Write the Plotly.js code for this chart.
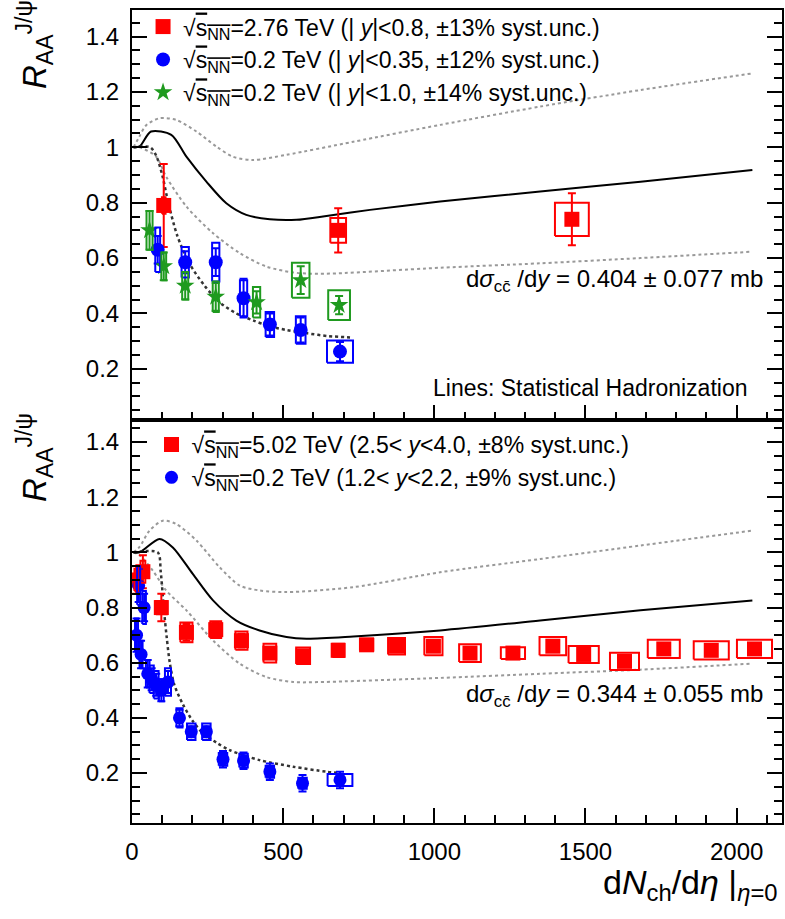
<!DOCTYPE html>
<html>
<head>
<meta charset="utf-8">
<script src="https://cdn.plot.ly/plotly-3.0.1.min.js"></script>
<style>html,body{margin:0;padding:0;background:#fff;}#chart{width:785px;height:919px;}</style>
</head>
<body>
<div id="chart"></div>
<script>
// ---------- Top panel data (mid-rapidity) ----------
const alice276_x    = [105, 682, 1455];
const alice276_y    = [0.79, 0.70, 0.74];
const alice276_stat = [0.15, 0.08, 0.094];
const alice276_sysx = [6, 26, 56];
const alice276_sysy = [0.03, 0.045, 0.06];

const phxMid_x    = [85, 176, 277, 369, 456, 558, 688];
const phxMid_y    = [0.63, 0.585, 0.585, 0.455, 0.36, 0.34, 0.262];
const phxMid_stat = [0.05, 0.04, 0.05, 0.07, 0.04, 0.045, 0.035];
const phxMid_sysx = [8, 12, 12, 12, 14, 16, 43];
const phxMid_sysy = [0.08, 0.055, 0.07, 0.065, 0.045, 0.05, 0.04];

const phxMid2_x    = [58, 105, 176, 277, 412, 558, 685];
const phxMid2_y    = [0.70, 0.57, 0.50, 0.46, 0.44, 0.52, 0.43];
const phxMid2_stat = [0.07, 0.05, 0.05, 0.05, 0.04, 0.05, 0.033];
const phxMid2_sysx = [10, 8, 10, 10, 12, 29, 36];
const phxMid2_sysy = [0.07, 0.05, 0.05, 0.055, 0.055, 0.063, 0.054];

// Statistical hadronization curves (top)
const shm276_x    = [5, 25, 63, 130, 180, 246, 312, 378, 456, 544, 643, 787, 1019, 1350, 1682, 2052];
const shm276_y    = [1.0, 1.003, 1.057, 1.045, 0.966, 0.876, 0.798, 0.756, 0.74, 0.738, 0.752, 0.774, 0.804, 0.84, 0.876, 0.918];
const shm276hi_x  = [5, 25, 47, 91, 146, 213, 279, 334, 400, 511, 732, 1019, 1350, 1682, 2052];
const shm276hi_y  = [1.0, 1.04, 1.08, 1.105, 1.099, 1.057, 1.003, 0.966, 0.954, 0.973, 1.02, 1.081, 1.147, 1.207, 1.267];
const shm276lo_x  = [5, 25, 80, 113, 180, 268, 356, 445, 533, 621, 1019, 1350, 1682, 2052];
const shm276lo_y  = [1.0, 1.0, 0.966, 0.894, 0.786, 0.69, 0.618, 0.569, 0.548, 0.543, 0.565, 0.581, 0.6, 0.623];
const shm200mid_x = [5, 60, 80, 100, 120, 150, 190, 240, 290, 345, 400, 450, 511, 580, 650, 730];
const shm200mid_y = [1.0, 1.0, 0.97, 0.9, 0.8, 0.68, 0.58, 0.5, 0.44, 0.40, 0.375, 0.355, 0.34, 0.328, 0.318, 0.313];

// ---------- Bottom panel data (forward rapidity) ----------
const alice502_x    = [14, 36, 97, 180, 277, 362, 456, 566, 682, 776, 875, 997, 1118, 1260, 1392, 1494, 1629, 1759, 1916, 2059];
const alice502_y    = [0.90, 0.93, 0.80, 0.71, 0.72, 0.68, 0.635, 0.625, 0.645, 0.665, 0.66, 0.66, 0.635, 0.635, 0.66, 0.63, 0.605, 0.65, 0.645, 0.65];
const alice502_stat = [0.05, 0.06, 0.05, 0.03, 0.025, 0.025, 0.02, 0.02, 0.015, 0.015, 0.015, 0.015, 0.015, 0.012, 0.012, 0.012, 0.012, 0.012, 0.012, 0.012];
const alice502_sysx = [6, 8, 18, 20, 18, 20, 21, 23, 19, 22, 28, 30, 36, 40, 44, 50, 48, 53, 58, 58];
const alice502_sysy = [0.04, 0.04, 0.024, 0.036, 0.03, 0.033, 0.034, 0.03, 0.024, 0.021, 0.03, 0.033, 0.032, 0.021, 0.033, 0.031, 0.031, 0.033, 0.033, 0.033];

const phxFwd_x    = [15, 22, 30, 40, 52, 65, 80, 97, 119, 157, 196, 246, 301, 369, 456, 564, 688];
const phxFwd_y    = [0.70, 0.88, 0.63, 0.80, 0.56, 0.54, 0.52, 0.50, 0.53, 0.40, 0.35, 0.35, 0.25, 0.245, 0.205, 0.163, 0.175];
const phxFwd_stat = [0.06, 0.06, 0.05, 0.05, 0.05, 0.04, 0.04, 0.04, 0.04, 0.03, 0.02, 0.02, 0.03, 0.03, 0.03, 0.03, 0.03];
const phxFwd_sysx = [5, 5, 5, 6, 6, 7, 8, 8, 10, 10, 14, 14, 14, 14, 14, 14, 41];
const phxFwd_sysy = [0.06, 0.07, 0.05, 0.06, 0.05, 0.05, 0.05, 0.04, 0.05, 0.035, 0.03, 0.03, 0.023, 0.025, 0.022, 0.02, 0.022];

const shm502_x    = [5, 25, 91, 135, 201, 268, 345, 422, 511, 577, 732, 1019, 1350, 1682, 2052];
const shm502_y    = [1.0, 1.0, 1.049, 1.018, 0.922, 0.826, 0.753, 0.717, 0.693, 0.687, 0.695, 0.717, 0.753, 0.79, 0.826];
const shm502hi_x  = [5, 25, 58, 102, 146, 213, 290, 356, 422, 511, 732, 1019, 1350, 1682, 2052];
const shm502hi_y  = [1.0, 1.02, 1.079, 1.115, 1.103, 1.043, 0.946, 0.88, 0.862, 0.856, 0.874, 0.928, 0.976, 1.025, 1.079];
const shm502lo_x  = [5, 25, 69, 113, 180, 268, 356, 445, 533, 621, 1019, 1350, 1682, 2052];
const shm502lo_y  = [1.0, 0.99, 0.934, 0.862, 0.79, 0.681, 0.597, 0.548, 0.53, 0.53, 0.545, 0.56, 0.575, 0.597];
const shm200fwd_x = [5, 85, 95, 105, 115, 125, 140, 168, 200, 235, 280, 323, 422, 533, 643, 690];
const shm200fwd_y = [1.0, 1.0, 0.93, 0.80, 0.69, 0.60, 0.52, 0.45, 0.39, 0.344, 0.31, 0.283, 0.247, 0.223, 0.205, 0.2];

// ---------- Tick values ----------
const yTicks = [0.2, 0.4, 0.6, 0.8, 1.0, 1.2, 1.4];
const xTicks = [0, 500, 1000, 1500, 2000];

const FONT = "Liberation Sans, Arial, Helvetica, sans-serif";
const RED = "#ff0000", BLUE = "#0000ff", GREEN = "#1f9a1f";

function boxes(xs, ys, dxs, dys, color, xa, ya) {
  const X = [], Y = [];
  for (let i = 0; i < xs.length; i++) {
    const x = xs[i], y = ys[i], dx = dxs[i], dy = dys[i];
    X.push(x - dx, x + dx, x + dx, x - dx, x - dx, null);
    Y.push(y - dy, y - dy, y + dy, y + dy, y - dy, null);
  }
  return {x: X, y: Y, xaxis: xa, yaxis: ya, mode: "lines", type: "scatter",
          line: {color: color, width: 2}, showlegend: false, hoverinfo: "skip"};
}
function points(xs, ys, st, color, symbol, size, name, xa, ya, leg) {
  return {x: xs, y: ys, xaxis: xa, yaxis: ya, mode: "markers", type: "scatter", name: name,
          legend: leg,
          marker: {color: color, symbol: symbol, size: size},
          error_y: {type: "data", array: st, visible: true, color: color, thickness: 2, width: 4}};
}
function curve(xs, ys, color, dash, width, xa, ya) {
  return {x: xs, y: ys, xaxis: xa, yaxis: ya, mode: "lines", type: "scatter",
          line: {color: color, dash: dash, width: width, shape: "spline", smoothing: 0.8},
          showlegend: false, hoverinfo: "skip"};
}

const sq = "√<span style=\"text-decoration:overline\">s<sub>NN</sub></span>";

const traces = [
  // top panel curves
  curve(shm276hi_x, shm276hi_y, "#999999", "dot", 2, "x2", "y2"),
  curve(shm276lo_x, shm276lo_y, "#999999", "dot", 2, "x2", "y2"),
  curve(shm276_x, shm276_y, "#000000", "solid", 2, "x2", "y2"),
  curve(shm200mid_x, shm200mid_y, "#333333", "dot", 2.5, "x2", "y2"),
  // top panel data
  points(alice276_x, alice276_y, alice276_stat, RED, "square", 15,
         sq + "=2.76 TeV (| <i>y</i>|&lt;0.8, ±13% syst.unc.)", "x2", "y2", "legend"),
  points(phxMid_x, phxMid_y, phxMid_stat, BLUE, "circle", 14,
         sq + "=0.2 TeV (| <i>y</i>|&lt;0.35, ±12% syst.unc.)", "x2", "y2", "legend"),
  points(phxMid2_x, phxMid2_y, phxMid2_stat, GREEN, "star", 14,
         sq + "=0.2 TeV (| <i>y</i>|&lt;1.0, ±14% syst.unc.)", "x2", "y2", "legend"),
  boxes(alice276_x, alice276_y, alice276_sysx, alice276_sysy, RED, "x2", "y2"),
  boxes(phxMid_x, phxMid_y, phxMid_sysx, phxMid_sysy, BLUE, "x2", "y2"),
  boxes(phxMid2_x, phxMid2_y, phxMid2_sysx, phxMid2_sysy, GREEN, "x2", "y2"),
  // bottom panel curves
  curve(shm502hi_x, shm502hi_y, "#999999", "dot", 2, "x", "y"),
  curve(shm502lo_x, shm502lo_y, "#999999", "dot", 2, "x", "y"),
  curve(shm502_x, shm502_y, "#000000", "solid", 2, "x", "y"),
  curve(shm200fwd_x, shm200fwd_y, "#333333", "dot", 2.5, "x", "y"),
  // bottom panel data
  points(alice502_x, alice502_y, alice502_stat, RED, "square", 15,
         sq + "=5.02 TeV (2.5&lt; <i>y</i>&lt;4.0, ±8% syst.unc.)", "x", "y", "legend2"),
  points(phxFwd_x, phxFwd_y, phxFwd_stat, BLUE, "circle", 13,
         sq + "=0.2 TeV (1.2&lt; <i>y</i>&lt;2.2, ±9% syst.unc.)", "x", "y", "legend2"),
  boxes(alice502_x, alice502_y, alice502_sysx, alice502_sysy, RED, "x", "y"),
  boxes(phxFwd_x, phxFwd_y, phxFwd_sysx, phxFwd_sysy, BLUE, "x", "y")
];

const yaxisBase = {
  tickmode: "array", tickvals: yTicks, ticks: "inside", ticklen: 15, tickwidth: 2, tickcolor: "#000",
  minor: {dtick: 0.05, ticks: "inside", ticklen: 8, tickwidth: 2, tickcolor: "#000"},
  showline: true, linecolor: "#000", linewidth: 2, mirror: "allticks",
  showgrid: false, zeroline: false, ticklabelstandoff: 6,
  tickfont: {family: FONT, size: 24, color: "#000"}
};
const xaxisBase = {
  range: [0, 2150], tickmode: "array", tickvals: xTicks, ticks: "inside", ticklen: 15, tickwidth: 2, tickcolor: "#000",
  minor: {dtick: 100, ticks: "inside", ticklen: 8, tickwidth: 2, tickcolor: "#000"},
  showline: true, linecolor: "#000", linewidth: 2, mirror: true,
  showgrid: false, zeroline: false, ticklabelstandoff: 6,
  tickfont: {family: FONT, size: 24, color: "#000"}
};

const layout = {
  width: 785, height: 919,
  margin: {l: 132, r: 3, t: 10, b: 96},
  paper_bgcolor: "#fff", plot_bgcolor: "#fff",
  font: {family: FONT, color: "#000"},
  xaxis: Object.assign({}, xaxisBase, {anchor: "y", domain: [0, 1]}),
  xaxis2: Object.assign({}, xaxisBase, {anchor: "y2", domain: [0, 1], matches: "x", showticklabels: false}),
  yaxis: Object.assign({}, yaxisBase, {anchor: "x", domain: [0, 0.4957], range: [0.019, 1.48]}),
  yaxis2: Object.assign({}, yaxisBase, {anchor: "x2", domain: [0.4957, 1], range: [0.015, 1.496]}),
  legend: {x: 0.017, y: 1.006, xanchor: "left", yanchor: "top", bgcolor: "rgba(0,0,0,0)",
           font: {family: FONT, size: 23, color: "#000"}, tracegroupgap: 0},
  legend2: {x: 0.03, y: 0.492, xanchor: "left", yanchor: "top", bgcolor: "rgba(0,0,0,0)",
            font: {family: FONT, size: 23, color: "#000"}, tracegroupgap: 0},
  showlegend: true,
  annotations: [
    {xref: "paper", yref: "paper", x: 0.951, y: 0.535, xanchor: "right", yanchor: "middle", showarrow: false,
     text: "Lines: Statistical Hadronization", font: {family: FONT, size: 23, color: "#000"}},
    {xref: "paper", yref: "paper", x: 0.974, y: 0.667, xanchor: "right", yanchor: "middle", showarrow: false,
     text: "d<i>σ</i><sub>cc̄</sub> /d<i>y</i> = 0.404 ± 0.077 mb", font: {family: FONT, size: 24, color: "#000"}},
    {xref: "paper", yref: "paper", x: 0.974, y: 0.157, xanchor: "right", yanchor: "middle", showarrow: false,
     text: "d<i>σ</i><sub>cc̄</sub> /d<i>y</i> = 0.344 ± 0.055 mb", font: {family: FONT, size: 24, color: "#000"}},
    {xref: "paper", yref: "paper", x: -0.149, y: 0.957, xanchor: "center", yanchor: "middle", showarrow: false,
     textangle: -90, text: "<i>R</i><sub>AA</sub><sup>J/ψ</sup>", font: {family: FONT, size: 33, color: "#000"}},
    {xref: "paper", yref: "paper", x: -0.149, y: 0.449, xanchor: "center", yanchor: "middle", showarrow: false,
     textangle: -90, text: "<i>R</i><sub>AA</sub><sup>J/ψ</sup>", font: {family: FONT, size: 33, color: "#000"}},
    {xref: "paper", yref: "paper", x: 0.997, y: -0.076, xanchor: "right", yanchor: "middle", showarrow: false,
     text: "d<i>N</i><sub>ch</sub>/d<i>η</i> |<sub><i>η</i>=0</sub>", font: {family: FONT, size: 34, color: "#000"}}
  ]
};

Plotly.newPlot("chart", traces, layout, {displayModeBar: false, staticPlot: true});
</script>
</body>
</html>
